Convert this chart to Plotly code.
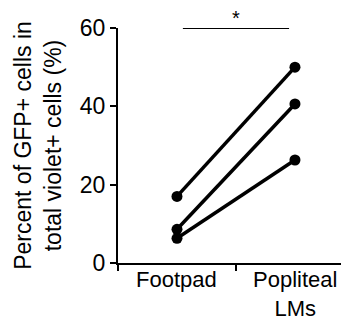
import plotly.graph_objects as go

categories = ["Footpad", "Popliteal<br>LMs"]
footpad = [17.0, 8.6, 6.3]
popliteal = [50.0, 40.6, 26.3]
y_ticks = [0, 20, 40, 60]

fig = go.Figure()
for a, b in zip(footpad, popliteal):
    fig.add_trace(go.Scatter(
        x=[0, 1], y=[a, b], mode="lines+markers",
        line=dict(color="black", width=3.5),
        marker=dict(color="black", size=11),
        showlegend=False, cliponaxis=False,
    ))

fig.add_shape(type="line", xref="x", yref="y", x0=0.05, x1=0.95, y0=60, y1=60,
              line=dict(color="black", width=2))
fig.add_annotation(x=0.5, y=60, xref="x", yref="y", text="*", showarrow=False,
                   yanchor="bottom", yshift=-3, font=dict(size=20, color="black"))

for i, c in enumerate(categories):
    fig.add_annotation(x=i, y=0, xref="x", yref="paper", text=c, showarrow=False,
                       yanchor="top", yshift=-2, font=dict(size=22, color="black"))

# page body has an 8px margin; the figure is sized/offset to compensate
font = "Liberation Sans, Arial, sans-serif"
fig.update_layout(
    width=341, height=313,
    margin=dict(l=110, r=0, t=20, b=58),
    paper_bgcolor="white", plot_bgcolor="white",
    font=dict(family=font, color="black"),
    xaxis=dict(
        range=[-0.5, 1.458], tickvals=[-0.5, 0.5, 1.5], showticklabels=False,
        ticks="outside", ticklen=6, tickwidth=2, tickcolor="black",
        showline=True, linecolor="black", linewidth=2, automargin=False,
        showgrid=False, zeroline=False,
    ),
    yaxis=dict(
        range=[0, 60], tickvals=y_ticks, ticks="outside", ticklen=6, tickwidth=2,
        tickcolor="black", showline=True, linecolor="black", linewidth=2,
        showgrid=False, zeroline=False, tickfont=dict(size=23), automargin=False,
        title=dict(text="Percent of GFP+ cells in<br>total violet+ cells (%)",
                   font=dict(size=23), standoff=12),
    ),
)

fig.write_html("out.html")
